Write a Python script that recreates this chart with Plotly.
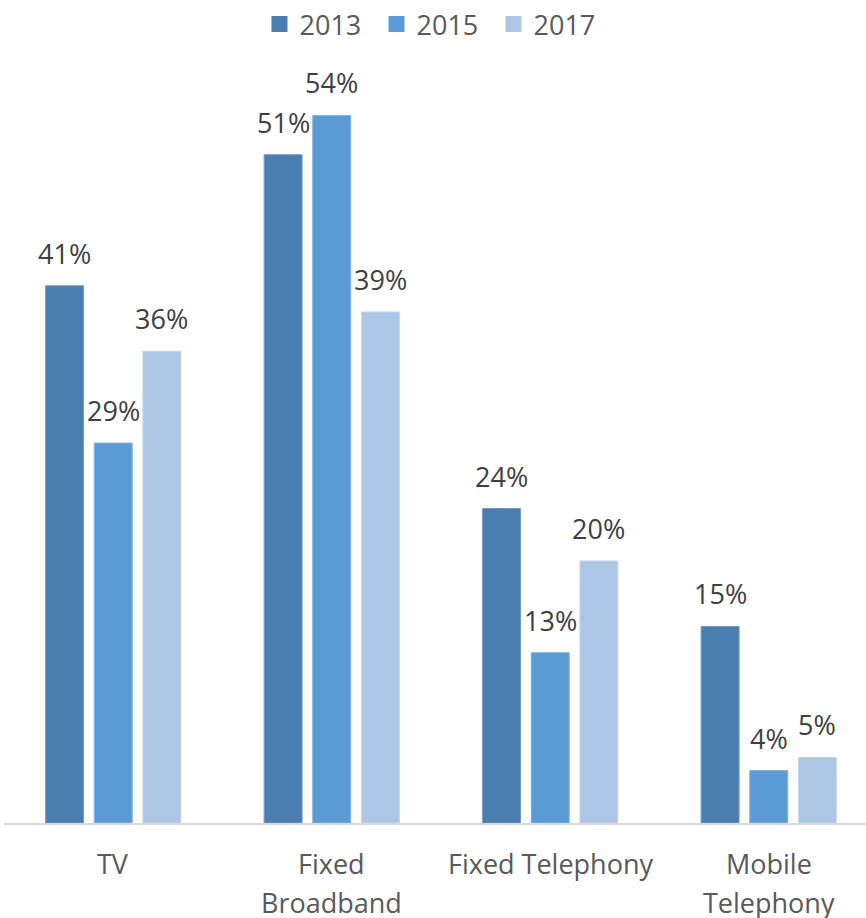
import plotly.graph_objects as go

categories = ["TV", "Fixed<br>Broadband", "Fixed Telephony", "Mobile<br>Telephony"]
years = ["2013", "2015", "2017"]
values_2013 = [41, 51, 24, 15]
values_2015 = [29, 54, 13, 4]
values_2017 = [36, 39, 20, 5]

series = [values_2013, values_2015, values_2017]
colors = ["#4a7eb0", "#5b9bd5", "#adc6e5"]
edges = ["#6f98c2", "#80b2df", "#c4d6ec"]

FONT = "Open Sans"
BARGAP = 0.332
GROUPGAP = 0.22
LINE_STEP = 39  # px between lines of a category label

fig = go.Figure()
idx = list(range(len(categories)))
for name, vals, col, edge in zip(years, series, colors, edges):
    fig.add_trace(go.Bar(
        x=idx, y=vals, name=name, marker=dict(color=col, line=dict(color=edge, width=1)),
        showlegend=False, hoverinfo="skip",
    ))
    # legend entry with a larger square swatch
    fig.add_trace(go.Scatter(
        x=[None], y=[None], mode="markers", name=name,
        marker=dict(symbol="square", size=18, color=col),
    ))

# value labels placed above each bar of the group
n = len(series)
slot = (1 - BARGAP) / n
for j, vals in enumerate(series):
    off = (j - (n - 1) / 2) * slot
    for i, v in enumerate(vals):
        fig.add_annotation(
            x=i + off, y=v, text=f"{v}%", showarrow=False,
            yanchor="bottom", yshift=12,
            font=dict(family=FONT, size=27, color="#404040"),
        )

# category labels, one annotation per line for wider line spacing
for i, label in enumerate(categories):
    for k, line in enumerate(label.split("<br>")):
        fig.add_annotation(
            x=i, xref="x", y=0, yref="paper", text=line, showarrow=False,
            yanchor="middle", yshift=-40 - k * LINE_STEP,
            font=dict(family=FONT, size=27, color="#595959"),
        )

fig.update_layout(
    width=866, height=918,
    margin=dict(l=4, r=0, t=62, b=95),
    paper_bgcolor="white", plot_bgcolor="white",
    barmode="group", bargap=BARGAP, bargroupgap=GROUPGAP,
    font=dict(family=FONT, size=27, color="#595959"),
    legend=dict(
        orientation="h", x=0.5, xanchor="center", y=1.05, yanchor="middle",
        font=dict(family=FONT, size=27, color="#595959"),
        itemsizing="trace", bgcolor="rgba(0,0,0,0)",
        entrywidth=72, entrywidthmode="pixels",
    ),
    xaxis=dict(
        tickvals=idx, showticklabels=False,
        range=[-0.5, -0.5 + 862 / 218.5],
        showline=True, linecolor="#d9d9d9", linewidth=1.5,
        showgrid=False, zeroline=False, ticks="",
        fixedrange=True,
    ),
    yaxis=dict(
        range=[0, 58], visible=False, showgrid=False, zeroline=False,
        fixedrange=True,
    ),
)

fig.write_html("out.html")
